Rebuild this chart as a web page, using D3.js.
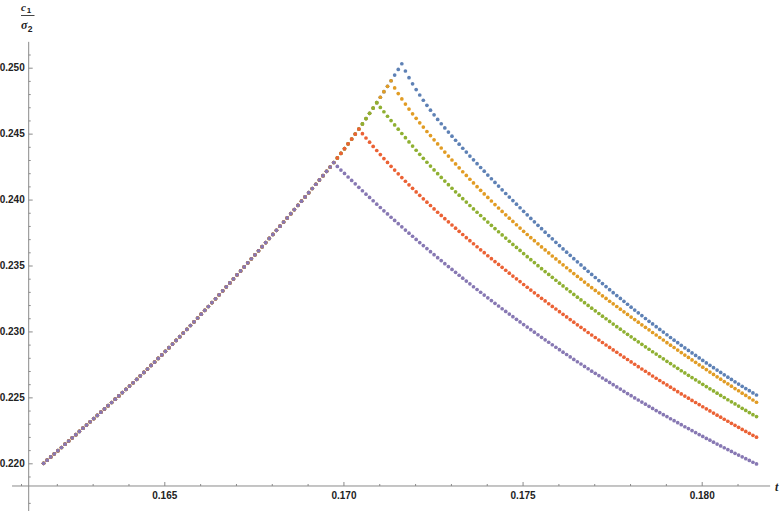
<!DOCTYPE html>
<html><head><meta charset="utf-8">
<script src="https://cdn.jsdelivr.net/npm/d3@7"></script>
<style>body{margin:0;background:#fff}svg{display:block}</style>
</head><body>
<svg id="chart" width="783" height="511"></svg>
<script>
// ---- data ----
const seriesNames = ["s1","s2","s3","s4","s5"];
const seriesColors = ["#5E81B5","#E19C24","#8FB032","#EB6235","#8778B3"];
const tFirst = 0.16163, tStep = 0.0001;   // sampling grid of t
// common rising branch (index 0..100)
const rise = [.22000,.22024,.22048,.22072,.22096,.22120,.22145,.22169,.22193,.22217,
.22242,.22266,.22290,.22315,.22339,.22363,.22388,.22412,.22437,.22461,
.22486,.22511,.22536,.22561,.22586,.22611,.22637,.22663,.22689,.22715,
.22742,.22768,.22795,.22822,.22849,.22877,.22904,.22932,.22960,.22988,
.23016,.23045,.23073,.23102,.23131,.23160,.23189,.23219,.23248,.23278,
.23308,.23338,.23368,.23398,.23429,.23459,.23489,.23520,.23551,.23581,
.23612,.23643,.23674,.23705,.23736,.23767,.23798,.23830,.23861,.23893,
.23924,.23956,.23988,.24020,.24052,.24084,.24116,.24149,.24181,.24214,
.24247,.24281,.24316,.24351,.24386,.24423,.24459,.24497,.24535,.24574,
.24614,.24654,.24694,.24735,.24776,.24818,.24859,.24901,.24944,.24987,.25030];
const peakIndex = [100, 97, 93, 88, 81];
const decay1 = [.24975,.24924,.24878,.24834,.24793,.24753,.24715,.24678,.24643,.24608,
.24575,.24543,.24512,.24481,.24450,.24420,.24389,.24360,.24330,.24301,
.24272,.24243,.24215,.24186,.24158,.24130,.24102,.24074,.24046,.24019,
.23992,.23965,.23938,.23911,.23884,.23857,.23831,.23805,.23779,.23753,
.23727,.23702,.23676,.23651,.23626,.23601,.23577,.23552,.23528,.23504,
.23480,.23456,.23432,.23409,.23386,.23363,.23340,.23317,.23294,.23272,
.23250,.23228,.23206,.23184,.23162,.23141,.23120,.23098,.23077,.23057,
.23036,.23015,.22995,.22975,.22954,.22934,.22915,.22895,.22875,.22856,
.22837,.22818,.22799,.22780,.22761,.22743,.22725,.22707,.22689,.22671,
.22653,.22636,.22618,.22601,.22584,.22567,.22551,.22534,.22518];
const decay2 = [.24847,.24804,.24763,.24724,.24686,.24650,.24616,.24582,.24550,.24516,
.24485,.24453,.24422,.24391,.24360,.24330,.24300,.24270,.24241,.24211,
.24183,.24154,.24126,.24098,.24070,.24043,.24016,.23989,.23962,.23936,
.23910,.23884,.23859,.23834,.23809,.23784,.23759,.23735,.23711,.23688,
.23664,.23641,.23618,.23595,.23572,.23550,.23527,.23505,.23483,.23461,
.23439,.23417,.23396,.23374,.23353,.23332,.23311,.23291,.23270,.23250,
.23229,.23209,.23189,.23169,.23149,.23129,.23109,.23090,.23070,.23050,
.23031,.23012,.22992,.22973,.22954,.22935,.22915,.22896,.22878,.22859,
.22840,.22821,.22803,.22784,.22766,.22747,.22729,.22711,.22692,.22674,
.22656,.22638,.22620,.22603,.22585,.22567,.22550,.22532,.22515,.22497,
.22480,.22463];
const decay3 = [.24699,.24666,.24632,.24599,.24566,.24534,.24501,.24469,.24437,.24406,
.24374,.24343,.24313,.24283,.24254,.24225,.24196,.24168,.24140,.24113,
.24086,.24059,.24033,.24007,.23981,.23955,.23929,.23904,.23879,.23854,
.23829,.23805,.23780,.23756,.23732,.23708,.23684,.23660,.23637,.23614,
.23590,.23567,.23544,.23522,.23499,.23476,.23454,.23432,.23410,.23388,
.23366,.23345,.23323,.23302,.23281,.23260,.23239,.23218,.23197,.23176,
.23156,.23136,.23116,.23096,.23076,.23056,.23036,.23017,.22997,.22978,
.22959,.22940,.22921,.22902,.22883,.22865,.22846,.22828,.22810,.22792,
.22773,.22756,.22738,.22720,.22702,.22685,.22667,.22650,.22633,.22616,
.22599,.22582,.22565,.22549,.22532,.22515,.22499,.22482,.22466,.22450,
.22434,.22417,.22401,.22385,.22369,.22354];
const decay4 = [.24500,.24467,.24435,.24403,.24372,.24341,.24311,.24282,.24252,.24224,
.24195,.24167,.24139,.24112,.24085,.24058,.24032,.24006,.23980,.23955,
.23929,.23904,.23880,.23855,.23831,.23807,.23783,.23759,.23735,.23711,
.23688,.23665,.23642,.23619,.23597,.23574,.23552,.23530,.23508,.23486,
.23464,.23442,.23420,.23399,.23378,.23356,.23335,.23314,.23293,.23272,
.23251,.23231,.23210,.23190,.23170,.23150,.23130,.23110,.23090,.23070,
.23050,.23031,.23012,.22992,.22973,.22954,.22935,.22916,.22897,.22879,
.22860,.22842,.22823,.22805,.22787,.22769,.22751,.22733,.22715,.22698,
.22680,.22662,.22645,.22628,.22611,.22594,.22577,.22560,.22543,.22526,
.22510,.22494,.22477,.22461,.22445,.22429,.22413,.22397,.22381,.22365,
.22350,.22334,.22319,.22303,.22288,.22273,.22257,.22242,.22227,.22212,
.22198];
const decay5 = [.24251,.24224,.24198,.24171,.24145,.24119,.24093,.24067,.24041,.24016,
.23991,.23965,.23940,.23915,.23891,.23866,.23842,.23817,.23793,.23769,
.23745,.23722,.23698,.23674,.23651,.23628,.23605,.23582,.23559,.23537,
.23514,.23492,.23470,.23448,.23426,.23404,.23382,.23361,.23339,.23318,
.23297,.23276,.23255,.23234,.23213,.23193,.23172,.23152,.23132,.23112,
.23092,.23072,.23052,.23033,.23013,.22994,.22975,.22955,.22936,.22918,
.22899,.22880,.22862,.22843,.22825,.22807,.22788,.22770,.22753,.22735,
.22717,.22699,.22682,.22665,.22647,.22630,.22613,.22596,.22579,.22563,
.22546,.22529,.22513,.22496,.22480,.22464,.22448,.22432,.22416,.22400,
.22385,.22369,.22354,.22338,.22323,.22308,.22293,.22277,.22263,.22248,
.22233,.22218,.22204,.22189,.22175,.22160,.22146,.22132,.22118,.22104,
.22090,.22076,.22062,.22049,.22035,.22022,.22008,.21995];
const decays = [decay1, decay2, decay3, decay4, decay5];

const xMajorTicks = [0.165, 0.170, 0.175, 0.180];
const xMinorTicks = [0.161,0.162,0.163,0.164,0.166,0.167,0.168,0.169,0.171,0.172,0.173,0.174,0.176,0.177,0.178,0.179,0.181];
const yMajorTicks = [0.220,0.225,0.230,0.235,0.240,0.245,0.250];
const yMinorTicks = [0.217,0.219,0.221,0.222,0.223,0.224,0.226,0.227,0.228,0.229,0.231,0.232,0.233,0.234,
  0.236,0.237,0.238,0.239,0.241,0.242,0.243,0.244,0.246,0.247,0.248,0.249,0.251];
const axisOrigin = {t: 0.161215, v: 0.218279};
const xAxisExtent = [0.16075, 0.18191];
const yAxisExtent = [0.2163, 0.25196];

// ---- chart ----
const svg = d3.select("#chart");
const x = d3.scaleLinear().domain([0.165, 0.180]).range([164.3, 701.7]);
const y = d3.scaleLinear().domain([0.220, 0.250]).range([463.3, 67.7]);
const ox = x(axisOrigin.t), oy = y(axisOrigin.v);
const axisColor = "#8a8a8a";
const fmt = d3.format(".3f");

// axis lines
svg.append("line").attr("x1", x(xAxisExtent[0])).attr("x2", x(xAxisExtent[1]))
  .attr("y1", oy).attr("y2", oy).attr("stroke", axisColor).attr("stroke-width", 1);
svg.append("line").attr("x1", ox).attr("x2", ox)
  .attr("y1", y(yAxisExtent[0])).attr("y2", y(yAxisExtent[1])).attr("stroke", axisColor).attr("stroke-width", 1);

function styleAxis(g){
  g.select(".domain").remove();
  g.selectAll(".tick line").attr("stroke", axisColor);
  g.selectAll(".tick text").attr("fill", "#222").style("font-family", "'Liberation Sans', Arial, sans-serif")
    .style("font-size", "10px").style("font-weight", "bold");
}
svg.append("g").attr("transform", `translate(0,${oy})`)
  .call(d3.axisBottom(x).tickValues(xMajorTicks).tickFormat(fmt).tickSizeInner(-4).tickSizeOuter(0).tickPadding(6))
  .call(styleAxis);
svg.append("g").attr("transform", `translate(0,${oy})`)
  .call(d3.axisBottom(x).tickValues(xMinorTicks).tickFormat("").tickSizeInner(-2).tickSizeOuter(0))
  .call(styleAxis);
svg.append("g").attr("transform", `translate(${ox},0)`)
  .call(d3.axisLeft(y).tickValues(yMajorTicks).tickFormat(fmt).tickSizeInner(-4).tickSizeOuter(0).tickPadding(4))
  .call(styleAxis);
svg.append("g").attr("transform", `translate(${ox},0)`)
  .call(d3.axisLeft(y).tickValues(yMinorTicks).tickFormat("").tickSizeInner(-2).tickSizeOuter(0))
  .call(styleAxis);

// axis labels
svg.append("text").attr("x", 775).attr("y", 490.5)
  .style("font-family", "'Liberation Serif', 'Times New Roman', serif").style("font-style", "italic")
  .style("font-weight", "bold").style("font-size", "12px").attr("fill", "#222").text("t");
const lab = svg.append("g").attr("fill", "#222")
  .style("font-family", "'Liberation Serif', 'Times New Roman', serif").style("font-weight", "bold");
lab.append("text").attr("x", 21).attr("y", 10.5).style("font-style", "italic").style("font-size", "11px").text("c");
lab.append("text").attr("x", 26.8).attr("y", 12.5).style("font-size", "8px").style("font-family", "'Liberation Sans', Arial, sans-serif").text("1");
lab.append("line").attr("x1", 21).attr("x2", 34.5).attr("y1", 15.5).attr("y2", 15.5).attr("stroke", "#444").attr("stroke-width", 1);
lab.append("text").attr("x", 21).attr("y", 28.5).style("font-style", "italic").style("font-size", "12px").text("σ");
lab.append("text").attr("x", 27.8).attr("y", 31.5).style("font-size", "8.5px").style("font-family", "'Liberation Sans', Arial, sans-serif").text("2");

// points
seriesNames.forEach((name, s) => {
  const vals = rise.slice(0, peakIndex[s] + 1).concat(decays[s]);
  const pts = vals.map((v, i) => ({t: tFirst + i * tStep, v}));
  svg.append("g").attr("class", name).attr("fill", seriesColors[s])
    .selectAll("circle").data(pts).join("circle")
    .attr("cx", d => x(d.t)).attr("cy", d => y(d.v)).attr("r", 1.85);
});
</script>
</body></html>
